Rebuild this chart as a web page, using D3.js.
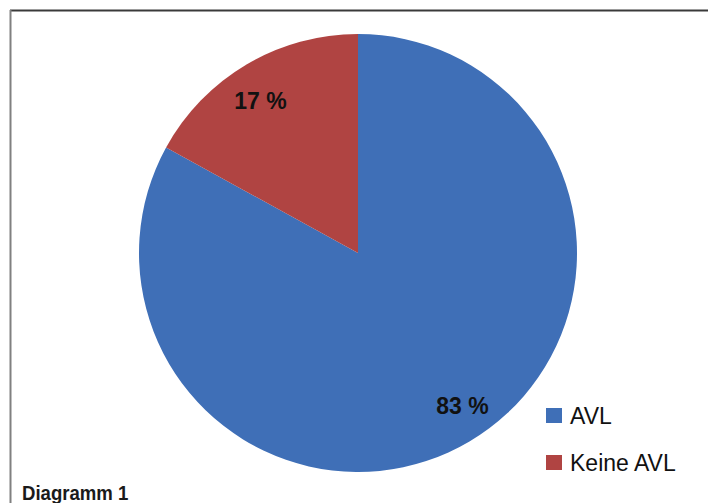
<!DOCTYPE html>
<html>
<head>
<meta charset="utf-8">
<script src="https://cdn.jsdelivr.net/npm/d3@7"></script>
<style>
  html, body { margin: 0; padding: 0; background: #fff; }
  svg { display: block; }
</style>
</head>
<body>
<svg id="chart" width="708" height="503"></svg>
<script>
// data
const categories = ["AVL", "Keine AVL"];
const values = [83, 17];
const labels = ["83 %", "17 %"];
const colors = ["#3F6FB7", "#B04442"];

const svg = d3.select("#chart");
const width = 708;
const height = 503;

// frame: top and left rule only
svg.append("line")
  .attr("x1", 10).attr("y1", 10.5).attr("x2", width).attr("y2", 10.5)
  .attr("stroke", "#3a3a3a").attr("stroke-width", 2);
svg.append("line")
  .attr("x1", 10.5).attr("y1", 10).attr("x2", 10.5).attr("y2", height)
  .attr("stroke", "#808080").attr("stroke-width", 2);

const cx = 358, cy = 253, radius = 219;

const pie = d3.pie().sort(null).value((d) => d.value);
const arc = d3.arc().innerRadius(0).outerRadius(radius);

const data = categories.map((c, i) => ({ name: c, value: values[i], label: labels[i], color: colors[i] }));

const g = svg.append("g").attr("transform", `translate(${cx},${cy})`);

g.selectAll("path")
  .data(pie(data))
  .join("path")
  .attr("d", arc)
  .attr("fill", (d) => d.data.color);

// labels placed inside slices, near the rim
const labelArc = d3.arc().innerRadius(radius * 0.83).outerRadius(radius * 0.83);
g.selectAll("text.pct")
  .data(pie(data))
  .join("text")
  .attr("class", "pct")
  .attr("transform", (d) => {
    const [x, y] = labelArc.centroid(d);
    const shift = d.data.name === "AVL" ? [12, -3] : [-5, 4];
    return `translate(${x + shift[0]},${y + shift[1]})`;
  })
  .attr("text-anchor", "middle")
  .attr("dominant-baseline", "central")
  .attr("font-family", "Liberation Sans, Arial, sans-serif")
  .attr("font-weight", "bold")
  .attr("font-size", 23)
  .attr("fill", "#111")
  .text((d) => d.data.label);

// legend
const legend = svg.append("g").attr("transform", "translate(546,408)");
const item = legend.selectAll("g")
  .data(data)
  .join("g")
  .attr("transform", (d, i) => `translate(0,${i * 47})`);
item.append("rect")
  .attr("width", 16).attr("height", 15)
  .attr("fill", (d) => d.color);
item.append("text")
  .attr("x", 24).attr("y", 15.5)
  .attr("font-family", "Liberation Sans, Arial, sans-serif")
  .attr("font-size", 23)
  .attr("fill", "#111")
  .text((d) => d.name);

// caption
svg.append("text")
  .attr("transform", "translate(22,500) scale(0.93,1)")
  .attr("font-family", "Liberation Sans, Arial, sans-serif")
  .attr("font-weight", "bold")
  .attr("font-size", 20)
  .attr("fill", "#1a1a1a")
  .text("Diagramm 1");
</script>
</body>
</html>
